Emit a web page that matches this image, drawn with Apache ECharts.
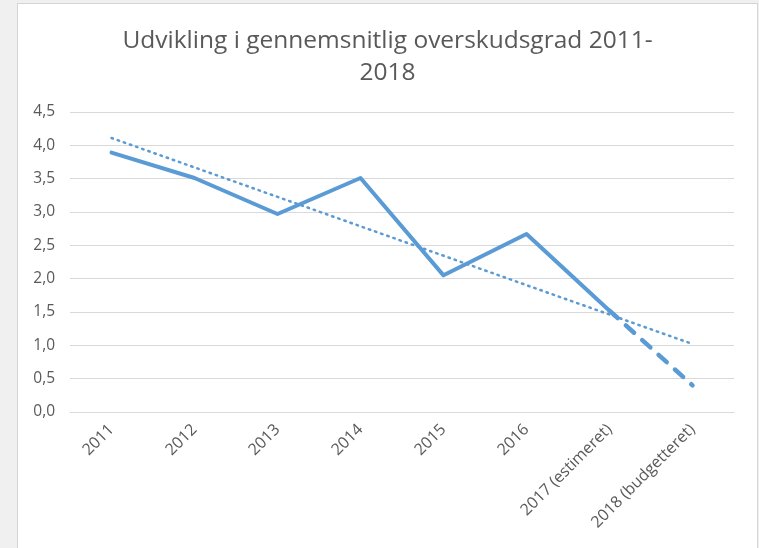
<!DOCTYPE html>
<html>
<head>
<meta charset="utf-8">
<script src="https://cdn.jsdelivr.net/npm/echarts@6/dist/echarts.min.js"></script>
<style>
html,body{margin:0;padding:0;background:#f0f0f0;overflow:hidden;}
#panel{position:absolute;left:17px;top:3px;width:739px;height:548px;background:#fff;border:1px solid #d4d4d4;}
#main{width:739px;height:548px;}
</style>
</head>
<body>
<div id="panel"><div id="main"></div></div>
<script>
// kategorier og værdier
var categories = ['2011', '2012', '2013', '2014', '2015', '2016', '2017 (estimeret)', '2018 (budgetteret)'];
var actual = [3.89, 3.51, 2.97, 3.51, 2.05, 2.67, 1.52, null];
var forecast = [null, null, null, null, null, null, 1.52, 0.40];
// tendenslinje, start- og slutpunkt aflæst
var trend = [4.11, null, null, null, null, null, null, 1.02];
var yTicks = [0, 0.5, 1, 1.5, 2, 2.5, 3, 3.5, 4, 4.5];

var blue = '#5b9bd5';
var grey = '#595959';

var myChart = echarts.init(document.getElementById('main'));
var option = {
    animation: false,
    title: {
        text: 'Udvikling i gennemsnitlig overskudsgrad 2011-\n2018',
        left: 'center',
        top: 16,
        textStyle: {
            fontFamily: 'Open Sans',
            fontSize: 24.5,
            fontWeight: 'normal',
            color: grey,
            lineHeight: 32
        }
    },
    grid: {
        left: 52,
        right: 23,
        top: 108,
        bottom: 140
    },
    xAxis: {
        type: 'category',
        data: categories,
        boundaryGap: true,
        axisLine: {lineStyle: {color: '#d9d9d9'}},
        axisTick: {show: false},
        axisLabel: {
            rotate: 45,
            interval: 0,
            margin: 15,
            color: grey,
            fontFamily: 'Open Sans',
            fontSize: 16
        }
    },
    yAxis: {
        type: 'value',
        min: yTicks[0],
        max: yTicks[yTicks.length - 1],
        interval: 0.5,
        axisLine: {show: false},
        axisTick: {show: false},
        splitLine: {lineStyle: {color: '#d9d9d9'}},
        axisLabel: {
            margin: 15,
            color: grey,
            fontFamily: 'Open Sans',
            fontSize: 15.5,
            formatter: function(v){ return v.toFixed(1).replace('.', ','); }
        }
    },
    series: [
        {
            type: 'line',
            data: trend,
            connectNulls: true,
            symbol: 'none',
            lineStyle: {color: blue, width: 2.5, type: [1.5, 5], cap: 'round'},
            z: 1
        },
        {
            type: 'line',
            data: actual,
            symbol: 'none',
            lineStyle: {color: blue, width: 4, cap: 'round', join: 'round'},
            z: 2
        },
        {
            type: 'line',
            data: forecast,
            symbol: 'none',
            lineStyle: {color: blue, width: 4.5, type: [11, 11], cap: 'round'},
            z: 2
        }
    ]
};
myChart.setOption(option);
</script>
</body>
</html>
